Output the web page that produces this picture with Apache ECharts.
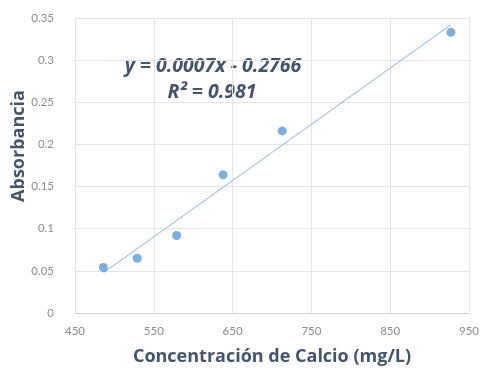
<!DOCTYPE html>
<html><head><meta charset="utf-8">
<script src="https://cdn.jsdelivr.net/npm/echarts@6/dist/echarts.min.js"></script>
<style>html,body{margin:0;padding:0;background:#fff}#c{width:482px;height:371px}</style>
</head><body><div id="c"></div>
<script>
const concentracion = [486, 529, 579, 638, 713, 927];
const absorbancia = [0.054, 0.065, 0.092, 0.164, 0.216, 0.333];
const xTicks = [450, 550, 650, 750, 850, 950];
const yTicks = [0, 0.05, 0.1, 0.15, 0.2, 0.25, 0.3, 0.35];
const ecuacion = 'y = 0.0007x - 0.2766';
const r2 = 'R² = 0.981';
const tituloX = 'Concentración de Calcio (mg/L)';
const tituloY = 'Absorbancia';

// least squares trendline from the data
const n = concentracion.length;
const mx = concentracion.reduce((a,b)=>a+b,0)/n;
const my = absorbancia.reduce((a,b)=>a+b,0)/n;
let sxy=0, sxx=0;
for (let i=0;i<n;i++){ sxy+=(concentracion[i]-mx)*(absorbancia[i]-my); sxx+=(concentracion[i]-mx)**2; }
const m = sxy/sxx, b = my - m*mx;
const xmin = Math.min(...concentracion), xmax = Math.max(...concentracion);
const trend = [[xmin, m*xmin+b],[xmax, m*xmax+b]];

const chart = echarts.init(document.getElementById('c'));
const font = 'Lato, "Open Sans", sans-serif';
const tfont = '"Open Sans", Lato, sans-serif';
chart.setOption({
  animation:false,
  grid:{left:75, right:9, top:18, bottom:51},
  xAxis:{type:'value', min:xTicks[0], max:xTicks[xTicks.length-1], interval:100,
    name:tituloX, nameLocation:'middle', nameGap:35,
    nameTextStyle:{fontFamily:tfont, fontSize:18, fontWeight:'bold', color:'#44546A'},
    axisLine:{show:true, lineStyle:{color:'#d0d0d0'}}, axisTick:{show:false},
    axisLabel:{fontFamily:font, fontSize:11.5, color:'#8c8c8c', margin:12},
    splitLine:{show:true, lineStyle:{color:'#e4e4e4'}}},
  yAxis:{type:'value', min:0, max:0.35, interval:0.05,
    axisLine:{show:true, lineStyle:{color:'#e4e4e4'}}, axisTick:{show:false},
    axisLabel:{fontFamily:font, fontSize:11.5, color:'#8c8c8c', margin:21,
      formatter: v => String(parseFloat(v.toFixed(2)))},
    splitLine:{show:true, lineStyle:{color:'#e4e4e4'}}},
  series:[
    {type:'line', data:trend, symbol:'none', lineStyle:{color:'#8ab4de', width:1}, silent:true, z:2},
    {type:'scatter', data:concentracion.map((x,i)=>[x,absorbancia[i]]), symbolSize:9,
     itemStyle:{color:'#5B9BD5'}, z:3}
  ],
  graphic:[
    {type:'text', x:19, y:146, rotation:Math.PI/2, style:{text:tituloY, textAlign:'center', textVerticalAlign:'middle',
      fontFamily:tfont, fontSize:18, fontWeight:'bold', fill:'#44546A'}},
    {type:'text', x:213, y:66, style:{text:ecuacion, textAlign:'center', textVerticalAlign:'middle',
      fontFamily:tfont, fontSize:19.5, fontWeight:'bold', fontStyle:'italic', fill:'#44546A'}},
    {type:'text', x:212, y:92, style:{text:r2, textAlign:'center', textVerticalAlign:'middle',
      fontFamily:tfont, fontSize:19.5, fontWeight:'bold', fontStyle:'italic', fill:'#44546A'}}
  ]
});
</script></body></html>
